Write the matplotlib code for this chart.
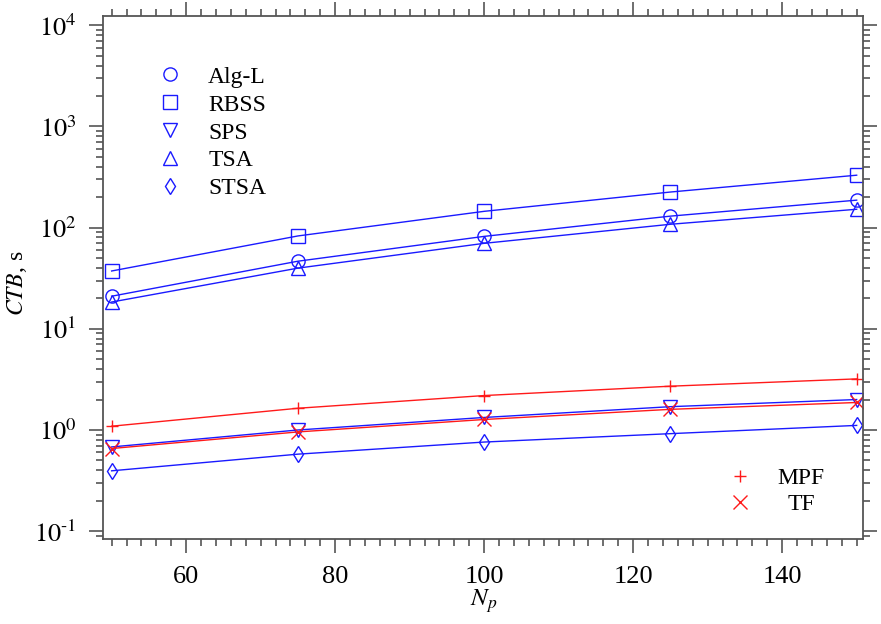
import matplotlib
matplotlib.use("Agg")
import matplotlib.pyplot as plt
from matplotlib.ticker import MultipleLocator, LogLocator, NullFormatter, FuncFormatter
import math

plt.rcParams['font.family'] = 'Liberation Serif'
plt.rcParams['mathtext.fontset'] = 'stix'

Np = [50, 75, 100, 125, 150]

alg_l = [21.0, 46.6, 82.0, 130.0, 187.0]
rbss = [37.3, 82.8, 145.0, 225.0, 330.0]
sps = [0.68, 1.00, 1.33, 1.70, 2.00]
tsa = [18.4, 39.8, 70.0, 108.0, 152.0]
stsa = [0.395, 0.577, 0.76, 0.92, 1.11]
mpf = [1.09, 1.64, 2.19, 2.71, 3.20]
tf = [0.656, 0.957, 1.27, 1.60, 1.87]

blue = '#1a1aff'
red = '#ff1a1a'

def pow_label(v, pos):
    e = int(round(math.log10(v)))
    if e < 0:
        return r'$10^{\text{-}%d}$' % (-e)
    return r'$10^{%d}$' % e

fig = plt.figure(figsize=(8.81, 6.24), dpi=100)
ax = fig.add_axes([0.117, 0.136, 0.863, 0.838])

h_alg, = ax.plot(Np, alg_l, 'o-', color=blue, mfc='none', ms=9.5, lw=1, label='Alg-L')
h_rbss, = ax.plot(Np, rbss, 's-', color=blue, mfc='none', ms=9.5, lw=1, label='RBSS')
h_sps, = ax.plot(Np, sps, 'v-', color=blue, mfc='none', ms=10, lw=1, label='SPS')
h_tsa, = ax.plot(Np, tsa, '^-', color=blue, mfc='none', ms=10, lw=1, label='TSA')
h_stsa, = ax.plot(Np, stsa, 'd-', color=blue, mfc='none', ms=8, lw=1, label='STSA')
h_mpf, = ax.plot(Np, mpf, '+-', color=red, ms=9, lw=1, label='MPF')
h_tf, = ax.plot(Np, tf, 'x-', color=red, ms=10, lw=1, label='TF')

ax.set_yscale('log')
ax.set_xlim(48.85, 150.9)
ax.set_ylim(0.0834, 12300)

ax.xaxis.set_major_locator(MultipleLocator(20))
ax.xaxis.set_minor_locator(MultipleLocator(2))
ax.yaxis.set_major_locator(LogLocator(base=10, numticks=10))
ax.yaxis.set_major_formatter(FuncFormatter(pow_label))
ax.yaxis.set_minor_locator(LogLocator(base=10, subs=range(2, 10), numticks=20))
ax.yaxis.set_minor_formatter(NullFormatter())

for s in ax.spines.values():
    s.set_color('#555555')
    s.set_linewidth(1.3)
ax.tick_params(which='both', direction='out', top=True, right=True,
               colors='#555555', labelcolor='black', labelsize=19, width=1.2)
ax.tick_params(which='major', length=10, pad=9)
ax.tick_params(which='minor', length=5)

ax.set_xlabel(r'$N_p$', fontsize=18, labelpad=0)
ax.set_ylabel(r'$CTB$, s', fontsize=17)
ax.yaxis.set_label_coords(-0.098, 0.49)

leg1 = ax.legend(handles=[h_alg, h_rbss, h_sps, h_tsa, h_stsa],
                 loc='upper left', bbox_to_anchor=(0.045, 0.945), frameon=False,
                 fontsize=17, handlelength=1.0, handletextpad=1.1,
                 labelspacing=0.27)
for h in leg1.legend_handles:
    h.set_linestyle('none')
ax.add_artist(leg1)
leg2 = ax.legend(handles=[h_mpf, h_tf], loc='lower right',
                 bbox_to_anchor=(0.977, 0.005), frameon=False, fontsize=17,
                 handlelength=1.0, handletextpad=1.1, labelspacing=0.2)
for h in leg2.legend_handles:
    h.set_linestyle('none')
# TF label is centred under MPF in the reference
leg2.get_texts()[1].set_position((10, 0))

fig.savefig('out.png', dpi=100)
